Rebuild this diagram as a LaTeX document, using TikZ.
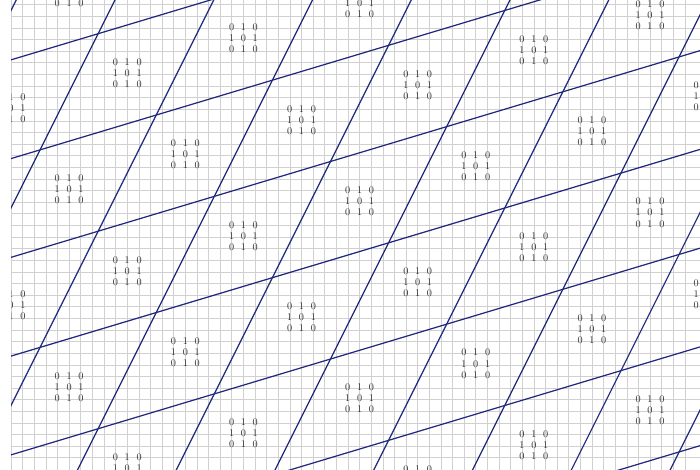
\documentclass[tikz,border=0pt]{standalone}
\usepackage{tikz}
\definecolor{latticeink}{RGB}{32, 40, 125}
\definecolor{gridink}{RGB}{208, 208, 208}
\definecolor{entryink}{RGB}{45, 45, 45}
\newcommand{\nbpattern}{%
  \renewcommand{\arraystretch}{0.9}%
  \begin{tabular}{@{}c@{\hspace{6.6pt}}c@{\hspace{6.6pt}}c@{}}
    0 & 1 & 0\\ 1 & 0 & 1\\ 0 & 1 & 0
  \end{tabular}}
\tikzset{
  gridline/.style={gridink, line width=0.6pt},
  latticeline/.style={latticeink, line width=1.2pt},
  entry/.style={text=entryink, inner sep=0pt}
}

\begin{document}
\begin{tikzpicture}[x=0.4cm, y=0.4cm]
  \useasboundingbox (-3.45,-27.55) rectangle (56.8,12.9);
  \clip (-2.5,-27.55) rectangle (56.8,12.9);
  % grid, half a cell off the lattice
  \foreach \i in {-2,...,56}
    \draw[gridline] (\i-0.5,-28) -- (\i-0.5,13);
  \foreach \j in {-27,...,12}
    \draw[gridline] (-3,\j+0.5) -- (57,\j+0.5);
  % steep lines: 2x - y = 17m
  \foreach \m in {-1,...,8}
    \draw[latticeline] ({(17*\m-30)/2},-30) -- ({(17*\m+15)/2},15);
  % shallow lines: 3x - 10y = 85k
  \foreach \k in {-1,...,5}
    \draw[latticeline] (-5,{(-15-85*\k)/10}) -- (60,{(180-85*\k)/10});
  % one pattern in every cell that shows
  \foreach \m in {-2,...,9} {
    \foreach \n in {-7,...,2} {
      \pgfmathtruncatemacro{\cx}{10*\m+5*\n+7}
      \pgfmathtruncatemacro{\cy}{3*\m+10*\n+6}
      \pgfmathtruncatemacro{\shows}{and(and(\cx>-5,\cx<58),and(\cy>-30,\cy<15))}
      \ifnum\shows=1
        \node[entry] (c\m-\n) at (\cx+0.5,\cy+0.5) {\nbpattern};
      \fi
    }
  }
\end{tikzpicture}
\end{document}
